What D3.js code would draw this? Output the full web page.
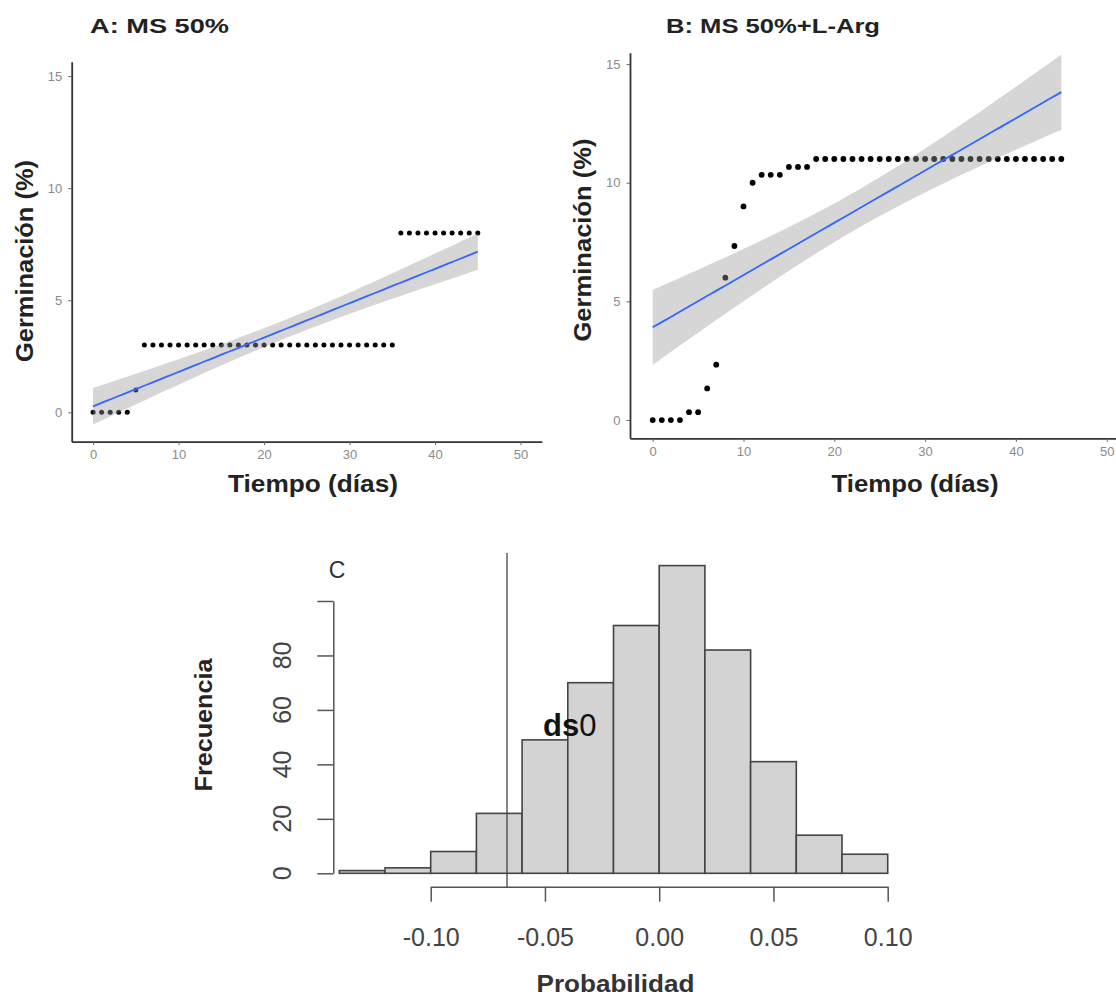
<!DOCTYPE html>
<html>
<head>
<meta charset="utf-8">
<script src="https://cdn.jsdelivr.net/npm/d3@7"></script>
<style>
  body { margin: 0; background: #fff; }
  svg { display: block; font-family: "Liberation Sans", Arial, sans-serif; }
</style>
</head>
<body>
<div id="chart"></div>
<script>
// days (x) shared by panels A and B
var dias = [0,1,2,3,4,5,6,7,8,9,10,11,12,13,14,15,16,17,18,19,20,21,22,
            23,24,25,26,27,28,29,30,31,32,33,34,35,36,37,38,39,40,41,42,43,44,45];

// A: MS 50%
var germA = [0,0,0,0,0,1,3,3,3,3,3,3,3,3,3,3,3,3,3,3,3,3,3,
             3,3,3,3,3,3,3,3,3,3,3,3,3,8,8,8,8,8,8,8,8,8,8];

// B: MS 50%+L-Arg
var germB = [0,0,0,0,0.333,0.333,1.333,2.333,6,7.333,9,10,10.333,10.333,10.333,10.667,10.667,10.667,
             11,11,11,11,11,11,11,11,11,11,11,11,11,11,11,11,11,11,11,11,11,11,11,11,11,11,11,11];

var ticksAB = [0, 10, 20, 30, 40, 50];
var ticksGerm = [0, 5, 10, 15];

// C: histogram
var binStart = [-0.14,-0.12,-0.10,-0.08,-0.06,-0.04,-0.02,0.00,0.02,0.04,0.06,0.08];
var binCount = [1, 2, 8, 22, 49, 70, 91, 113, 82, 41, 14, 7];
var binWidth = 0.02;
var ticksProb = [-0.10, -0.05, 0.00, 0.05, 0.10];
var ticksFreq = [0, 20, 40, 60, 80, 100];
var labelsFreq = ["0", "20", "40", "60", "80", ""];
var ds0 = -0.0666;

var svg = d3.select("#chart").append("svg")
  .attr("width", 1116).attr("height", 997);
svg.append("rect").attr("width", 1116).attr("height", 997).attr("fill", "#fff");

// linear fit + 95% CI like geom_smooth(method = "lm")
function lmFit(xs, ys) {
  var n = xs.length, mx = d3.mean(xs), my = d3.mean(ys);
  var sxx = 0, sxy = 0;
  for (var i = 0; i < n; i++) { sxx += (xs[i]-mx)*(xs[i]-mx); sxy += (xs[i]-mx)*(ys[i]-my); }
  var b = sxy / sxx, a = my - b * mx, sse = 0;
  for (var j = 0; j < n; j++) { var r = ys[j] - (a + b*xs[j]); sse += r*r; }
  var s = Math.sqrt(sse / (n - 2)), t = 2.0154;
  var xmin = d3.min(xs), xmax = d3.max(xs);
  var pts = [];
  for (var k = 0; k < 80; k++) {
    var x = xmin + (xmax - xmin) * k / 79;
    var fit = a + b*x, se = s * Math.sqrt(1/n + (x-mx)*(x-mx)/sxx);
    pts.push({x: x, y: fit, lo: fit - t*se, hi: fit + t*se});
  }
  return pts;
}

function scatterPanel(opt) {
  var g = svg.append("g");
  var x = opt.x, y = opt.y;
  var pts = lmFit(dias, opt.data);

  g.selectAll("circle").data(dias).enter().append("circle")
    .attr("cx", d => x(d))
    .attr("cy", (d, i) => y(opt.data[i]))
    .attr("r", opt.r)
    .attr("fill", "#000");

  g.append("path").datum(pts)
    .attr("d", d3.area().x(d => x(d.x)).y0(d => y(d.lo)).y1(d => y(d.hi)))
    .attr("fill", "#999999").attr("fill-opacity", 0.4);
  g.append("path").datum(pts)
    .attr("d", d3.line().x(d => x(d.x)).y(d => y(d.y)))
    .attr("fill", "none").attr("stroke", "#3366FF").attr("stroke-width", 1.8);

  var xa = g.append("g").attr("transform", "translate(0," + y.range()[0] + ")")
    .call(d3.axisBottom(x).tickValues(ticksAB).tickSize(3.5).tickSizeOuter(0).tickPadding(5));
  var ya = g.append("g").attr("transform", "translate(" + x.range()[0] + ",0)")
    .call(d3.axisLeft(y).tickValues(ticksGerm).tickSize(3.5).tickSizeOuter(0).tickPadding(6));
  [xa, ya].forEach(function(a) {
    a.select(".domain").attr("stroke", "#333").attr("stroke-width", 1.8);
    a.selectAll(".tick line").attr("stroke", "#666");
    a.selectAll("text").attr("fill", "#8a8a8a").style("font-size", "13px")
      .style("font-family", "'Liberation Sans', Arial, sans-serif");
  });

  g.append("text").attr("x", opt.title[0]).attr("y", opt.title[1])
    .attr("textLength", opt.title[2]).attr("lengthAdjust", "spacingAndGlyphs")
    .attr("font-size", 21).attr("font-weight", "bold").attr("fill", "#222")
    .text(opt.title[3]);
  g.append("text").attr("x", opt.xlab[0]).attr("y", opt.xlab[1])
    .attr("text-anchor", "middle").attr("dominant-baseline", "central")
    .attr("textLength", opt.xlab[2]).attr("lengthAdjust", "spacingAndGlyphs")
    .attr("font-size", 24).attr("font-weight", "bold").attr("fill", "#222")
    .text("Tiempo (días)");
  g.append("text")
    .attr("transform", "translate(" + opt.ylab[0] + "," + opt.ylab[1] + ") rotate(-90)")
    .attr("text-anchor", "middle").attr("dominant-baseline", "central")
    .attr("textLength", opt.ylab[2]).attr("lengthAdjust", "spacingAndGlyphs")
    .attr("font-size", 24).attr("font-weight", "bold").attr("fill", "#222")
    .text("Germinación (%)");
}

scatterPanel({
  data: germA,
  x: d3.scaleLinear().domain([-2.5, 52.5]).range([71.7, 541.9]),
  y: d3.scaleLinear().domain([-1.31, 15.64]).range([441.7, 61.7]),
  r: 2.5,
  title: [90, 33, 139, "A: MS 50%"],
  xlab: [313, 483, 170],
  ylab: [24, 261, 202]
});

scatterPanel({
  data: germB,
  x: d3.scaleLinear().domain([-2.5, 52.5]).range([630, 1129.4]),
  y: d3.scaleLinear().domain([-0.77, 15.48]).range([438.3, 52.7]),
  r: 2.9,
  title: [666, 33, 214, "B: MS 50%+L-Arg"],
  xlab: [915, 483, 167],
  ylab: [582, 240, 203]
});

// Panel C histogram
var xC = d3.scaleLinear().domain([-0.10, 0.10]).range([430.7, 887.7]);
var yC = d3.scaleLinear().domain([0, 100]).range([873.3, 601]);
var gC = svg.append("g");

gC.selectAll("rect.bar").data(binCount).enter().append("rect")
  .attr("class", "bar")
  .attr("x", (d, i) => xC(binStart[i]))
  .attr("y", d => yC(d))
  .attr("width", (d, i) => xC(binStart[i] + binWidth) - xC(binStart[i]))
  .attr("height", d => yC(0) - yC(d))
  .attr("fill", "#d3d3d3").attr("stroke", "#444").attr("stroke-width", 1.6);

gC.append("line")
  .attr("x1", xC(ds0)).attr("x2", xC(ds0))
  .attr("y1", 553).attr("y2", 887)
  .attr("stroke", "#444").attr("stroke-width", 1.3);

var xaC = gC.append("g").attr("transform", "translate(0,886.7)")
  .call(d3.axisBottom(xC).tickValues(ticksProb).tickFormat(d => d.toFixed(2))
    .tickSize(15).tickSizeOuter(0).tickPadding(27));
xaC.select(".domain").attr("stroke", "#555").attr("stroke-width", 1.5);
xaC.selectAll(".tick line").attr("stroke", "#555").attr("stroke-width", 1.5);
xaC.selectAll("text").attr("fill", "#444").style("font-size", "25px")
  .style("font-family", "'Liberation Sans', Arial, sans-serif");

var yaC = gC.append("g").attr("transform", "translate(333.3,0)")
  .call(d3.axisLeft(yC).tickValues(ticksFreq).tickFormat("").tickSize(16).tickSizeOuter(0));
yaC.select(".domain").attr("stroke", "#555").attr("stroke-width", 1.5);
yaC.selectAll(".tick line").attr("stroke", "#555").attr("stroke-width", 1.5);
gC.selectAll("text.ylab").data(ticksFreq).enter().append("text")
  .attr("class", "ylab")
  .attr("transform", d => "translate(282," + yC(d) + ") rotate(-90)")
  .attr("text-anchor", "middle").attr("dominant-baseline", "central")
  .attr("font-size", 25).attr("fill", "#444")
  .text((d, i) => labelsFreq[i]);

gC.append("text").attr("x", 615.5).attr("y", 983)
  .attr("text-anchor", "middle").attr("dominant-baseline", "central")
  .attr("textLength", 158).attr("lengthAdjust", "spacingAndGlyphs")
  .attr("font-size", 24).attr("font-weight", "bold").attr("fill", "#333")
  .text("Probabilidad");
gC.append("text")
  .attr("transform", "translate(203,725) rotate(-90)")
  .attr("text-anchor", "middle").attr("dominant-baseline", "central")
  .attr("textLength", 133).attr("lengthAdjust", "spacingAndGlyphs")
  .attr("font-size", 24).attr("font-weight", "bold").attr("fill", "#2a2222")
  .text("Frecuencia");
gC.append("text").attr("x", 337).attr("y", 570)
  .attr("text-anchor", "middle").attr("dominant-baseline", "central")
  .attr("font-size", 23).attr("fill", "#333")
  .text("C");

var ds = gC.append("text").attr("x", 543).attr("y", 736)
  .attr("font-size", 31).attr("fill", "#111");
ds.append("tspan").attr("font-weight", "bold").text("ds");
ds.append("tspan").text("0");
</script>
</body>
</html>
